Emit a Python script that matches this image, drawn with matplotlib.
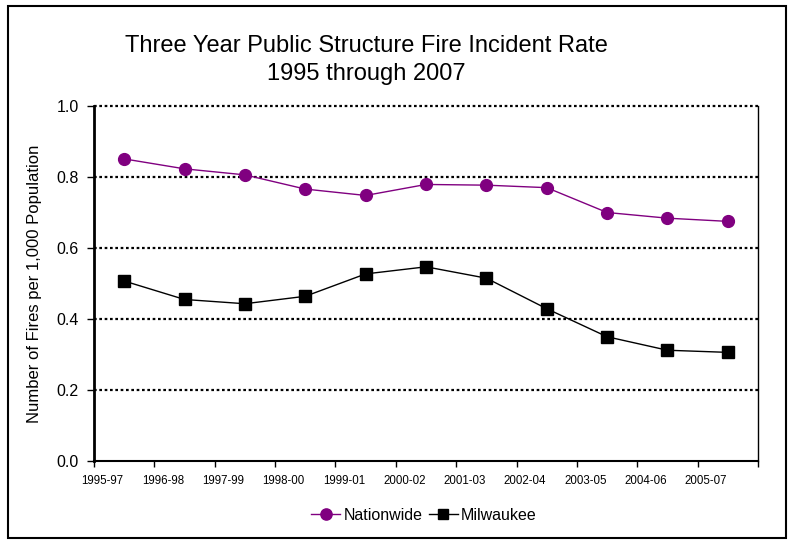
import matplotlib

matplotlib.use("Agg")
import matplotlib.pyplot as plt
from matplotlib.patches import Rectangle
import numpy as np

plt.rcParams["font.family"] = ["Liberation Sans", "DejaVu Sans"]

periods = ["1995-97", "1996-98", "1997-99", "1998-00", "1999-01", "2000-02",
           "2001-03", "2002-04", "2003-05", "2004-06", "2005-07"]
nationwide = [0.851, 0.823, 0.806, 0.766, 0.748, 0.779, 0.777, 0.770,
              0.700, 0.684, 0.675]
milwaukee = [0.507, 0.455, 0.443, 0.464, 0.527, 0.547, 0.515, 0.429,
             0.350, 0.312, 0.306]
yticks = [0.0, 0.2, 0.4, 0.6, 0.8, 1.0]

fig = plt.figure(figsize=(7.88, 5.4), dpi=100)
ax = fig.add_axes([94 / 788, 79 / 540, 664 / 788, 355 / 540])

x = np.arange(len(periods)) + 0.5
ax.plot(x, nationwide, color="#800080", lw=1.0, marker="o", ms=8.5,
        label="Nationwide")
ax.plot(x, milwaukee, color="black", lw=1.0, marker="s", ms=8,
        label="Milwaukee")

ax.set_xlim(0, len(periods))
ax.set_ylim(0, 1.0)

# category boundaries get the tick marks, labels sit just to the right
ax.set_xticks(np.arange(len(periods) + 1))
ax.set_xticklabels([])
ax.set_xticks(np.arange(len(periods)) + 0.14, minor=True)
ax.set_xticklabels(periods, minor=True, fontsize=8.3)
ax.tick_params(axis="x", which="major", direction="out", length=4, width=1)
ax.tick_params(axis="x", which="minor", length=0, pad=10)

ax.set_yticks(yticks)
ax.set_yticklabels([f"{v:.1f}" for v in yticks], fontsize=11.5)
ax.tick_params(axis="y", direction="out", length=5, width=1, pad=6)

for v in yticks[1:]:
    ax.axhline(v, color="black", lw=1.6, ls=(0, (1.2, 1.2)), zorder=0,
               clip_on=False)

ax.spines["top"].set_visible(False)
ax.spines["left"].set_linewidth(2)
ax.spines["bottom"].set_linewidth(1.5)
ax.spines["right"].set_linewidth(1)

ax.set_ylabel("Number of Fires per 1,000 Population", fontsize=12,
              labelpad=10)

fig.text(366 / 788, 1 - 52 / 540, "Three Year Public Structure Fire Incident Rate",
         ha="center", va="baseline", fontsize=17)
fig.text(366 / 788, 1 - 80 / 540, "1995 through 2007",
         ha="center", va="baseline", fontsize=17)

fig.legend(loc="center", bbox_to_anchor=(424 / 788, 1 - 515 / 540), ncol=2,
           frameon=False, fontsize=11.5, handlelength=1.8, handletextpad=0.2,
           columnspacing=0.4, markerscale=0.95)

fig.add_artist(Rectangle((8 / 788, 2 / 540), 778 / 788, 532 / 540,
                         transform=fig.transFigure, fill=False,
                         edgecolor="black", lw=1.5))

fig.savefig("out.png", dpi=100)
